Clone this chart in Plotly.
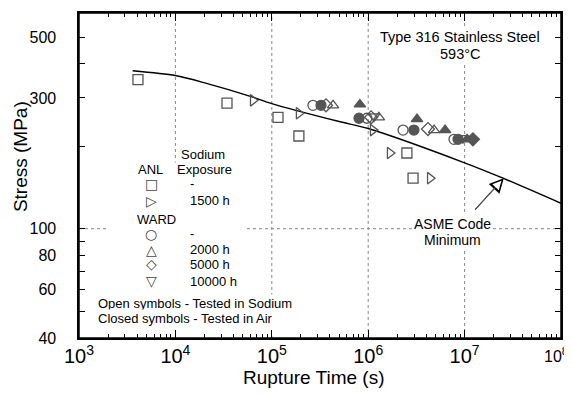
import math
import plotly.graph_objects as go

# ---------------- data ----------------
asme_t = [3.6e3, 1.0e4, 2.1e4, 6.0e4, 1.0e5, 5.0e5, 1.0e6, 1.0e7, 2.5e7, 1.0e8]
asme_s = [377, 362, 339, 304, 286, 246, 232, 174, 153, 124]

anl_t = [4.09e3, 3.43e4, 1.16e5, 1.91e5, 2.52e6, 2.92e6]
anl_s = [350, 287, 255, 218, 189, 153]
anl1500_t = [6.38e4, 1.91e5, 1.12e6, 1.68e6, 4.38e6]
anl1500_s = [294, 264, 229, 189, 153]

ward_open_t = [2.67e5, 9.7e5, 2.30e6, 7.76e6]
ward_open_s = [282, 253, 229, 212]
ward_air_t = [3.24e5, 8.03e5, 2.98e6, 8.55e6]
ward_air_s = [282, 253, 229, 212]
w2000_open_t = [4.32e5, 1.29e6, 4.82e6]
w2000_open_s = [282, 255, 229]
w2000_air_t = [8.2e5, 3.21e6, 6.27e6, 1.06e7]
w2000_air_s = [284, 251, 229, 212]
w5000_open_t = [3.65e5, 1.07e6, 4.17e6]
w5000_open_s = [282, 255, 231]
w5000_air_t = [1.22e7]
w5000_air_s = [212]
w10000_open_t = [1.15e6, 9.62e6]
w10000_open_s = [257, 214]

y_tickvals = [40, 50, 60, 70, 80, 90, 100, 200, 300, 400, 500]
y_ticktext = ["40", "", "60", "", "80", "", "100", "", "300", "", "500"]
x_grid_decades = [4, 5, 6, 7]

FONT = "Liberation Sans, Arial, sans-serif"
MC = "#555555"
GRID = "#888888"

# plot-area pixel geometry (screen coordinates)
L, R, T, B = 79, 561, 11, 338
OFF = 8  # default page body margin
W, H = 572 - OFF, 397 - OFF
XR = (3, 8)
PAD = "\u00a0" * 4


def px(x):
    return (x - L) / (R - L)


def py(y):
    return (B - y) / (B - T)


fig = go.Figure()

fig.add_trace(go.Scatter(x=asme_t, y=asme_s, mode="lines",
                         line=dict(color="black", width=1.5, shape="spline", smoothing=0.8),
                         showlegend=False, hoverinfo="skip"))


def add_pts(t, s, symbol, size=10):
    fig.add_trace(go.Scatter(x=t, y=s, mode="markers", showlegend=False,
                             marker=dict(symbol=symbol, size=size, color=MC,
                                         line=dict(color=MC, width=1.3))))


add_pts(anl_t, anl_s, "square-open", 10)
add_pts(anl1500_t, anl1500_s, "triangle-right-open", 10)
add_pts(ward_open_t, ward_open_s, "circle-open", 10)
add_pts(ward_air_t, ward_air_s, "circle", 10)
add_pts(w2000_open_t, w2000_open_s, "triangle-up-open", 10)
add_pts(w2000_air_t, w2000_air_s, "triangle-up", 10)
add_pts(w5000_open_t, w5000_open_s, "diamond-open", 10)
add_pts(w5000_air_t, w5000_air_s, "diamond", 10)
add_pts(w10000_open_t, w10000_open_s, "triangle-down-open", 10)

shapes = []
for d in x_grid_decades:
    xp = (d - XR[0]) / (XR[1] - XR[0])
    shapes.append(dict(type="line", xref="paper", yref="paper", x0=xp, x1=xp, y0=0, y1=1,
                       line=dict(color=GRID, width=1, dash="dot"), layer="below"))
shapes.append(dict(type="line", xref="paper", yref="paper", x0=0, x1=1, y0=py(228), y1=py(228),
                   line=dict(color=GRID, width=1, dash="dot"), layer="below"))
shapes.append(dict(type="rect", xref="paper", yref="paper", x0=px(108), x1=px(246),
                   y0=py(295), y1=py(162), fillcolor="white", line=dict(width=0), layer="below"))
shapes.append(dict(type="rect", xref="paper", yref="paper", x0=px(95), x1=px(292),
                   y0=py(336), y1=py(295), fillcolor="white", line=dict(width=0), layer="below"))
# frame
shapes.append(dict(type="rect", xref="paper", yref="paper", x0=0, x1=1, y0=0, y1=1,
                   line=dict(color="black", width=1.5), layer="above"))

ann = []


def text(x, y, s, size=13, xanchor="center", bg=None, family=FONT, color="black"):
    d = dict(xref="paper", yref="paper", x=px(x), y=py(y), text=s, showarrow=False,
             xanchor=xanchor, yanchor="middle", font=dict(size=size, family=family, color=color))
    if bg:
        d["bgcolor"] = bg
        d["borderpad"] = 1
    ann.append(d)


text(460, 35, "Type 316 Stainless Steel", 14.5, bg="white")
text(460, 52, "593°C", 14.5, bg="white")

text(452, 223, "ASME Code", 14, bg="white")
text(452, 239, "Minimum", 14, bg="white")
tip_x, tip_y = math.log10(2.55e7), math.log10(153)
ann.append(dict(xref="x", yref="y", x=tip_x, y=tip_y, ax=-30, ay=33,
                axref="pixel", ayref="pixel", showarrow=True, arrowhead=2, arrowsize=2.4,
                arrowwidth=1.2, arrowcolor="black", text=""))
ann.append(dict(xref="x", yref="y", x=tip_x, y=tip_y, ax=-30, ay=33,
                axref="pixel", ayref="pixel", showarrow=True, arrowhead=2, arrowsize=5.0,
                arrowwidth=0.35, arrowcolor="white", standoff=3.5, text=""))

text(203, 153, "Sodium", 13, bg="white")
text(204, 168, "Exposure", 13, bg="white")
text(150, 168, "ANL", 13)
text(156, 219, "WARD", 13)
SYM = "DejaVu Sans"
for yy, sym in [(183, "□"), (200, "▷"), (233, "○"), (249, "△"), (264, "◇"), (281, "▽")]:
    text(151, yy, sym, 14, family=SYM, color="#444444")
text(192, 183, "-", 13)
text(192, 233, "-", 13)
text(188, 200, "1500 h", 13, xanchor="left")
text(188, 249, "2000 h", 13, xanchor="left")
text(188, 264, "5000 h", 13, xanchor="left")
text(188, 281, "10000 h", 13, xanchor="left")
text(96, 303, "Open symbols - Tested in Sodium", 13, xanchor="left", bg="white")
text(96, 318, "Closed symbols - Tested in Air", 13, xanchor="left", bg="white")

# last x tick label (plotly hides it because it touches the page edge)
text(570, 355, "10<sup>%d</sup>" % XR[1], 16, xanchor="right")

ann.append(dict(xref="paper", yref="paper", x=px(20), y=py(156), text="Stress (MPa)",
                textangle=-90, showarrow=False, xanchor="center", yanchor="middle",
                font=dict(size=19, family=FONT, color="black")))
ann.append(dict(xref="paper", yref="paper", x=px(313), y=py(378), text="Rupture Time (s)",
                showarrow=False, xanchor="center", yanchor="middle",
                font=dict(size=19, family=FONT, color="black")))

fig.update_layout(
    width=W, height=H,
    margin=dict(l=L - OFF, r=572 - R, t=T - OFF, b=397 - B),
    paper_bgcolor="white", plot_bgcolor="white",
    font=dict(family=FONT, color="black"),
    shapes=shapes, annotations=ann,
    showlegend=False,
)

fig.update_xaxes(type="log", range=list(XR), dtick=1, exponentformat="power",
                 showgrid=False,
                 showline=True, linecolor="black", linewidth=1.5, mirror="allticks",
                 ticks="inside", ticklen=8, tickwidth=1.2, tickcolor="black",
                 tickfont=dict(size=16, family=FONT),
                 minor=dict(ticks="inside", ticklen=4, tickwidth=1.2, tickcolor="black",
                            dtick="D1", showgrid=False),
                 zeroline=False)
fig.update_yaxes(type="log", range=[math.log10(40), math.log10(612)],
                 tickmode="array", tickvals=y_tickvals,
                 ticktext=[t + PAD if t else t for t in y_ticktext],
                 showgrid=False,
                 showline=True, linecolor="black", linewidth=1.5, mirror="allticks",
                 ticks="inside", ticklen=6, tickwidth=1.2, tickcolor="black",
                 tickfont=dict(size=16, family=FONT),
                 zeroline=False)

fig.write_html("out.html")
